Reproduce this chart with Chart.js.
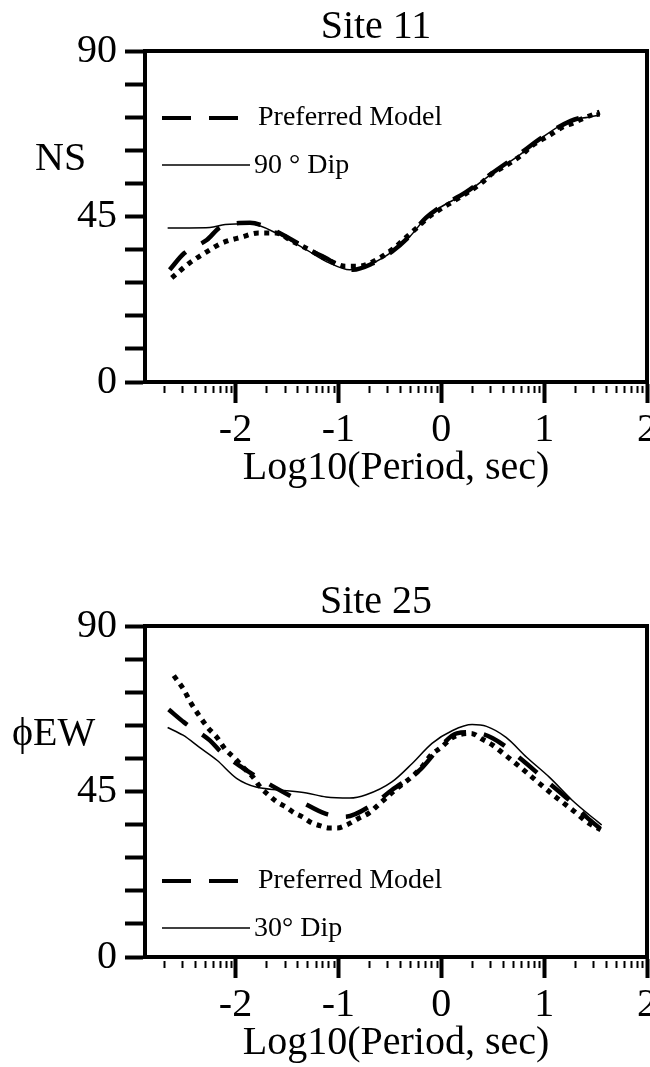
<!DOCTYPE html>
<html>
<head>
<meta charset="utf-8">
<script src="https://cdn.jsdelivr.net/npm/chart.js@4"></script>
<style>
  html, body { margin: 0; padding: 0; background: #fff; overflow: hidden; width: 650px; height: 1067px; }
  canvas { position: absolute; left: 0; }
  #site11 { top: 0; }
  #site25 { top: 575px; }
</style>
</head>
<body>
<canvas id="site11" width="650" height="533"></canvas>
<canvas id="site25" width="650" height="533"></canvas>
<script>
// x axis: log10 of period (sec)
let xTicks = [-2, -1, 0, 1, 2];
let yTicks = [0, 9, 18, 27, 36, 45, 54, 63, 72, 81, 90];
let yLabelled = [0, 45, 90];

// Site 11, NS phase
let nsPrefX = [-2.64, -2.5, -2.28, -2.14, -1.86, -1.67, -1.48, -1.28, -1.09, -0.96, -0.86, -0.67, -0.48, -0.31, -0.15, -0.02, 0.24, 0.5, 0.76, 0.98, 1.26, 1.43, 1.54];
let nsPrefY = [30.5, 35, 38.6, 42.2, 43.3, 41.8, 39.1, 35.9, 33.2, 31, 30.5, 32.2, 35.4, 39.6, 44.6, 47.4, 51.6, 56.9, 62, 66.5, 71, 72.3, 72.8];
let nsDipX = [-2.66, -2.45, -2.25, -2.1, -1.86, -1.57, -1.31, -1.09, -0.89, -0.67, -0.48, -0.31, -0.15, -0.02, 0.24, 0.5, 0.76, 0.98, 1.26, 1.43, 1.54];
let nsDipY = [41.9, 41.9, 42.0, 42.8, 43.0, 40.0, 35.9, 32.4, 30.5, 32.3, 35.4, 39.4, 44.6, 47.3, 51.4, 56.8, 61.7, 66.5, 71.2, 72.0, 72.6];
let nsObsX = [-2.62, -2.45, -2.28, -2.13, -1.94, -1.78, -1.61, -1.45, -1.28, -1.1, -0.93, -0.8, -0.62, -0.46, -0.34, -0.23, -0.12, -0.02, 0.11, 0.25, 0.39, 0.5, 0.59, 0.78, 0.88, 1.06, 1.18, 1.28, 1.39, 1.54];
let nsObsY = [28.3, 32.3, 35.4, 37.8, 39.4, 40.5, 40.5, 38.3, 35.9, 33.2, 31.5, 31.5, 33.4, 36.4, 39.4, 42.1, 44.9, 46.8, 49, 51.4, 54.1, 56.8, 58.2, 61.7, 64.2, 67.2, 69.3, 70.4, 71.8, 73.4];

// Site 25, EW phase
let ewPrefX = [-2.65, -2.5, -2.25, -2.14, -1.93, -1.77, -1.54, -1.36, -1.12, -0.94, -0.67, -0.48, -0.21, -0.02, 0.15, 0.3, 0.5, 0.79, 0.98, 1.24, 1.41, 1.58];
let ewPrefY = [67.3, 63.8, 58.9, 55.7, 51.4, 48.6, 44.9, 42.2, 38.9, 38.1, 41.4, 45.4, 50.8, 56.8, 60.8, 61.1, 59.5, 53.5, 48.9, 42.7, 38.1, 34.1];
let ewDipX = [-2.66, -2.51, -2.35, -2.18, -1.99, -1.8, -1.57, -1.31, -1.12, -0.89, -0.73, -0.48, -0.28, -0.09, 0.11, 0.3, 0.44, 0.63, 0.83, 1.05, 1.27, 1.44, 1.56];
let ewDipY = [62.4, 60.3, 57, 53.5, 48.6, 46.2, 45.4, 44.6, 43.5, 43.2, 44.1, 47.6, 52.7, 58.1, 61.6, 63.2, 62.7, 59.7, 54.3, 48.9, 42.7, 38.6, 35.9];
let ewObsX = [-2.6, -2.51, -2.43, -2.36, -2.27, -2.18, -2.1, -2.01, -1.92, -1.83, -1.76, -1.68, -1.6, -1.51, -1.43, -1.35, -1.26, -1.18, -1.09, -1.01, -0.92, -0.81, -0.7, -0.61, -0.45, -0.29, -0.19, -0.1, 0, 0.11, 0.29, 0.4, 0.5, 0.6, 0.79, 0.95, 1.1, 1.21, 1.31, 1.41, 1.55];
let ewObsY = [76.5, 73, 68.9, 65.9, 62.4, 59.7, 56.5, 54.1, 51.4, 48.9, 46.2, 44.1, 42.2, 40.8, 39.2, 38.1, 36.5, 35.7, 35.1, 35.1, 35.9, 37.6, 39.2, 41.4, 45.4, 48.9, 51.6, 54.9, 57, 59.7, 60.8, 59.2, 57.6, 55.4, 51.1, 47.3, 43.8, 41.4, 39.2, 36.8, 34.6];

let serif = '"Liberation Serif", "Times New Roman", serif';

function pts(xs, ys) {
  return xs.map((x, i) => ({ x: x, y: ys[i] }));
}

function makeChart(id, title, yLabel, yLabelX, legendLabels, legendY, series) {
  let ctx = document.getElementById(id).getContext('2d');

  // box, minor log ticks, title, y label and legend
  let decor = {
    id: 'decor',
    afterDraw(chart) {
      let c = chart.ctx;
      let a = chart.chartArea;
      let x = chart.scales.x;
      c.save();
      c.strokeStyle = '#000';
      c.fillStyle = '#000';
      c.lineWidth = 4;
      c.strokeRect(a.left, a.top, a.right - a.left, a.bottom - a.top);

      c.lineWidth = 2;
      for (let d = -3; d <= 1; d++) {
        for (let k = 2; k <= 9; k++) {
          let v = d + Math.log10(k);
          if (v <= x.min || v >= x.max) continue;
          let px = Math.round(x.getPixelForValue(v)) + 0.5;
          c.beginPath();
          c.moveTo(px, a.bottom + 4);
          c.lineTo(px, a.bottom + 11);
          c.stroke();
        }
      }

      c.font = '40px ' + serif;
      c.textBaseline = 'alphabetic';
      c.textAlign = 'center';
      c.fillText(title, 376, 38);
      c.textAlign = 'left';
      c.fillText(yLabel, yLabelX, 170);

      // legend
      let x0 = 162;
      c.lineWidth = 4;
      c.setLineDash([29, 18]);
      c.beginPath();
      c.moveTo(x0, legendY);
      c.lineTo(x0 + 76, legendY);
      c.stroke();
      c.setLineDash([]);
      c.lineWidth = 1.5;
      c.beginPath();
      c.moveTo(x0, legendY + 47);
      c.lineTo(x0 + 88, legendY + 47);
      c.stroke();
      c.font = '28px ' + serif;
      c.textBaseline = 'middle';
      c.fillText(legendLabels[0], x0 + 96, legendY);
      c.fillText(legendLabels[1], x0 + 92, legendY + 48);
      c.restore();
    }
  };

  return new Chart(ctx, {
    type: 'line',
    data: {
      datasets: [{
        label: legendLabels[0],
        data: pts(series[0][0], series[0][1]),
        borderColor: '#000',
        borderWidth: 4.5,
        borderDash: [24, 18],
        borderCapStyle: 'butt'
      }, {
        label: legendLabels[1],
        data: pts(series[1][0], series[1][1]),
        borderColor: '#000',
        borderWidth: 1.5
      }, {
        label: 'Observed',
        data: pts(series[2][0], series[2][1]),
        borderColor: '#000',
        borderWidth: 5,
        borderDash: [5, 5.5],
        borderCapStyle: 'butt'
      }]
    },
    options: {
      responsive: false,
      animation: false,
      devicePixelRatio: 1,
      layout: { padding: { top: 51, right: 3, left: 0, bottom: 0 } },
      elements: {
        point: { radius: 0 },
        line: { cubicInterpolationMode: 'monotone', fill: false }
      },
      plugins: {
        legend: { display: false },
        tooltip: { enabled: false }
      },
      scales: {
        x: {
          type: 'linear',
          min: -2.88,
          max: 2,
          afterBuildTicks: (scale) => {
            scale.ticks = xTicks.map(v => ({ value: v }));
          },
          afterFit: (scale) => {
            scale.height = 151;
            scale.paddingLeft = 0;
            scale.paddingRight = 0;
          },
          ticks: {
            color: '#000',
            font: { family: serif, size: 40 },
            padding: 3,
            maxRotation: 0,
            autoSkip: false
          },
          grid: {
            drawOnChartArea: false,
            tickLength: 21,
            tickWidth: 4,
            tickColor: '#000'
          },
          border: { display: true, color: '#000', width: 4 },
          title: {
            display: true,
            text: 'Log10(Period, sec)',
            color: '#000',
            font: { family: serif, size: 40 },
            padding: { top: 0, bottom: 41 }
          }
        },
        y: {
          min: 0,
          max: 90,
          afterBuildTicks: (scale) => {
            scale.ticks = yTicks.map(v => ({ value: v }));
          },
          afterFit: (scale) => {
            scale.width = 145;
            scale.paddingTop = 0;
            scale.paddingBottom = 0;
          },
          ticks: {
            color: '#000',
            font: { family: serif, size: 40 },
            padding: 8,
            autoSkip: false,
            callback: (v) => (yLabelled.includes(v) ? String(v) : '')
          },
          grid: {
            drawOnChartArea: false,
            tickLength: 20,
            tickWidth: 4,
            tickColor: '#000'
          },
          border: { display: true, color: '#000', width: 4 }
        }
      }
    },
    plugins: [decor]
  });
}

makeChart('site11', 'Site 11', 'NS', 35, ['Preferred Model', '90 \u00b0 Dip'], 118,
  [[nsPrefX, nsPrefY], [nsDipX, nsDipY], [nsObsX, nsObsY]]);
makeChart('site25', 'Site 25', '\u03d5EW', 12, ['Preferred Model', '30\u00b0 Dip'], 306,
  [[ewPrefX, ewPrefY], [ewDipX, ewDipY], [ewObsX, ewObsY]]);
</script>
</body>
</html>
